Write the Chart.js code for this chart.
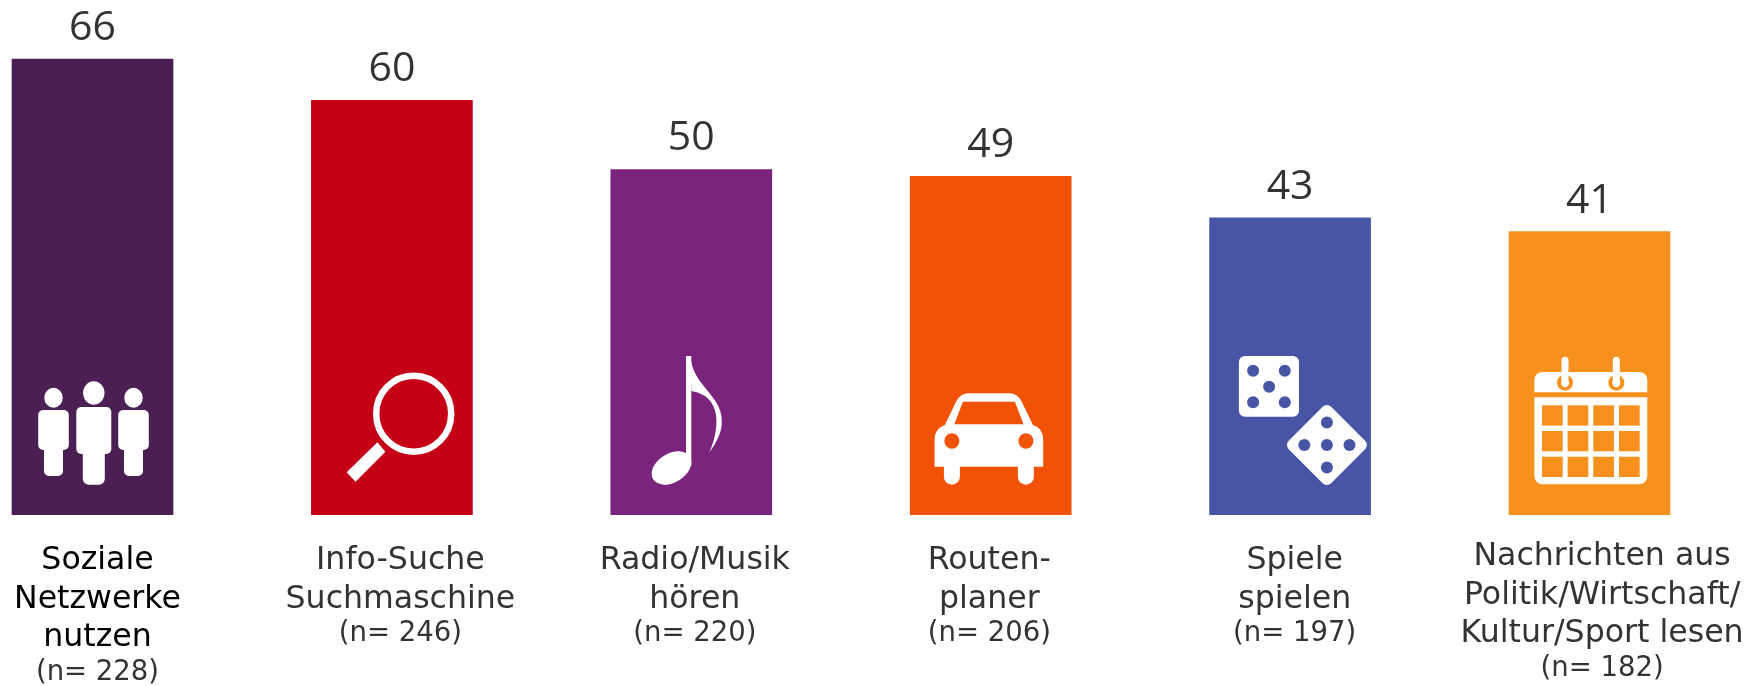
<!DOCTYPE html>
<html>
<head>
<meta charset="utf-8">
<title>Nutzung</title>
<script src="https://cdn.jsdelivr.net/npm/chart.js@4"></script>
<style>
    html, body { margin: 0; padding: 0; background: #fff; }
    canvas { display: block; }
</style>
</head>
<body>
<canvas id="usage-chart" width="1762" height="686"></canvas>
<script>
const categories = [
    ['Soziale', 'Netzwerke', 'nutzen'],
    ['Info-Suche', 'Suchmaschine'],
    ['Radio/Musik', 'hören'],
    ['Routen-', 'planer'],
    ['Spiele', 'spielen'],
    ['Nachrichten aus', 'Politik/Wirtschaft/', 'Kultur/Sport lesen']
];
const values = [66, 60, 50, 49, 43, 41];
const sampleSizes = [228, 246, 220, 206, 197, 182];
const barColors = ['#4b1f53', '#c50016', '#7a247e', '#f25205', '#4855a5', '#f6911e'];
const labelColors = ['#000000', '#333333', '#333333', '#333333', '#333333', '#333333'];

// label blocks are not centred exactly under the bars in the original
const labelShift = [5, 8.5, 3.5, -1.4, 4.6, 12.6];
const labelFirstBaseline = [569, 569, 569, 569, 569, 565];
const LINE_STEP = 38.7;

function ellipse(ctx, x, y, rx, ry, rot) {
    ctx.beginPath();
    ctx.ellipse(x, y, rx, ry, rot || 0, 0, Math.PI * 2);
    ctx.fill();
}

function rounded(ctx, x, y, w, h, r) {
    ctx.beginPath();
    ctx.roundRect(x, y, w, h, r);
    ctx.fill();
}

// every icon is drawn around the bar centre (x = 0), y is page pixels
const icons = [
    function people(ctx) {
        [[-39, 0], [41, 0], [1.3, 1]].forEach(([x, big]) => {
            if (big) {
                ellipse(ctx, x, 393, 10.7, 11.7);
                rounded(ctx, x - 17.5, 407, 35, 47, 5);
                rounded(ctx, x - 11, 440, 22, 44.7, 6);
            } else {
                ellipse(ctx, x, 397.7, 9.2, 10);
                rounded(ctx, x - 15.3, 410, 30.6, 40, 5);
                rounded(ctx, x - 9.5, 440, 19, 36, 5);
            }
        });
    },
    function lens(ctx) {
        ctx.strokeStyle = '#fff';
        ctx.lineWidth = 6.5;
        ctx.beginPath();
        ctx.ellipse(21.8, 413.7, 37.5, 38, 0, 0, Math.PI * 2);
        ctx.stroke();
        ctx.beginPath();
        ctx.moveTo(-14.5, 442.3);
        ctx.lineTo(-6.5, 451.7);
        ctx.lineTo(-36.4, 481.7);
        ctx.lineTo(-45.2, 472.3);
        ctx.closePath();
        ctx.fill();
    },
    function note(ctx) {
        ctx.fillRect(-5.3, 356, 5.3, 110);
        ellipse(ctx, -19.8, 468, 21.5, 14.5, -0.55);
        ctx.beginPath();
        ctx.moveTo(-1, 356);
        ctx.bezierCurveTo(1, 385, 30, 395, 30.5, 420);
        ctx.bezierCurveTo(31, 433, 25, 442, 18, 452.7);
        ctx.bezierCurveTo(28, 430, 32, 396, 0, 391);
        ctx.closePath();
        ctx.fill();
    },
    function car(ctx, color) {
        const cx = -1.8;
        ctx.beginPath();
        ctx.moveTo(cx - 44, 425);
        ctx.lineTo(cx - 33, 402);
        ctx.quadraticCurveTo(cx - 29, 393.3, cx - 20, 393.3);
        ctx.lineTo(cx + 20, 393.3);
        ctx.quadraticCurveTo(cx + 29, 393.3, cx + 33, 402);
        ctx.lineTo(cx + 44, 425);
        ctx.quadraticCurveTo(cx + 54.3, 428, cx + 54.3, 440);
        ctx.lineTo(cx + 54.3, 466.7);
        ctx.lineTo(cx - 54.3, 466.7);
        ctx.lineTo(cx - 54.3, 440);
        ctx.quadraticCurveTo(cx - 54.3, 428, cx - 44, 425);
        ctx.closePath();
        ctx.fill();
        rounded(ctx, cx - 45, 450, 16, 34.7, 8);
        rounded(ctx, cx + 29, 450, 16, 34.7, 8);
        ctx.fillStyle = color;
        ctx.beginPath();
        ctx.moveTo(cx - 26, 401.7);
        ctx.lineTo(cx + 26, 401.7);
        ctx.lineTo(cx + 34.6, 424.3);
        ctx.lineTo(cx - 34.6, 424.3);
        ctx.closePath();
        ctx.fill();
        ellipse(ctx, cx - 37, 441, 7.5, 7.7);
        ellipse(ctx, cx + 37, 441, 7.5, 7.7);
    },
    function dice(ctx, color) {
        rounded(ctx, -51.2, 356, 60.1, 60.7, 6);
        ctx.save();
        ctx.translate(36.8, 445);
        ctx.rotate(Math.PI / 4);
        rounded(ctx, -30, -30, 60, 60, 6);
        ctx.restore();
        ctx.fillStyle = color;
        [[-37, 370.7], [-5.3, 370.7], [-21, 386.7], [-37, 402.3], [-5.3, 402.3],
         [36.8, 445], [14.2, 445], [59.4, 445], [36.8, 422.6], [36.8, 467.4]].forEach(([x, y]) => {
            ellipse(ctx, x, y, 6, 6);
        });
    },
    function calendar(ctx, color) {
        rounded(ctx, -55.1, 372, 112.9, 20.3, [8, 8, 0, 0]);
        rounded(ctx, -55.1, 397.3, 112.9, 87, [0, 0, 8, 8]);
        [-24.5, 26.8].forEach(x => {
            ctx.fillStyle = color;
            ellipse(ctx, x, 382.7, 8, 8);
            ctx.fillStyle = '#fff';
            ellipse(ctx, x, 382.7, 4, 4.5);
            rounded(ctx, x - 3.5, 356.7, 7, 26, 3.5);
        });
        ctx.fillStyle = color;
        for (let row = 0; row < 3; row++) {
            for (let col = 0; col < 4; col++) {
                ctx.fillRect(-47.5 + col * 25.65, 405.3 + row * 25.7, 20.7, 20.3);
            }
        }
    }
];

const decorations = {
    id: 'decorations',
    afterDatasetsDraw(chart) {
        const ctx = chart.ctx;
        const bars = chart.getDatasetMeta(0).data;
        bars.forEach((bar, i) => {
            // value above the bar
            ctx.save();
            ctx.textAlign = 'center';
            ctx.textBaseline = 'alphabetic';
            ctx.fillStyle = '#333333';
            ctx.font = '41px "Open Sans"';
            ctx.fillText(String(values[i]), bar.x, bar.y - 19);

            // category and sample size below it
            const lx = bar.x + labelShift[i];
            let y = labelFirstBaseline[i];
            ctx.fillStyle = labelColors[i];
            ctx.font = '31.6px "DejaVu Sans"';
            categories[i].forEach((line, n) => {
                ctx.fillText(line, lx, y + n * LINE_STEP);
            });
            y += (categories[i].length - 1) * LINE_STEP + 33.3;
            ctx.fillStyle = '#333333';
            ctx.font = '27.5px "DejaVu Sans"';
            ctx.fillText('(n= ' + sampleSizes[i] + ')', lx, y);
            ctx.restore();

            // white icon inside the bar
            ctx.save();
            ctx.translate(bar.x, 0);
            ctx.fillStyle = '#ffffff';
            icons[i](ctx, barColors[i]);
            ctx.restore();
        });
    }
};

new Chart(document.getElementById('usage-chart'), {
    type: 'bar',
    data: {
        labels: categories,
        datasets: [{
            data: values,
            backgroundColor: barColors,
            barThickness: 161,
            clip: false
        }]
    },
    options: {
        responsive: false,
        animation: false,
        layout: {
            padding: { left: 92.5, right: 172.5, top: 59, bottom: 171.3 }
        },
        plugins: {
            legend: { display: false },
            tooltip: { enabled: false }
        },
        scales: {
            x: { display: false, offset: false },
            y: { display: false, min: 0, max: 66 }
        }
    },
    plugins: [decorations]
});
</script>
</body>
</html>
